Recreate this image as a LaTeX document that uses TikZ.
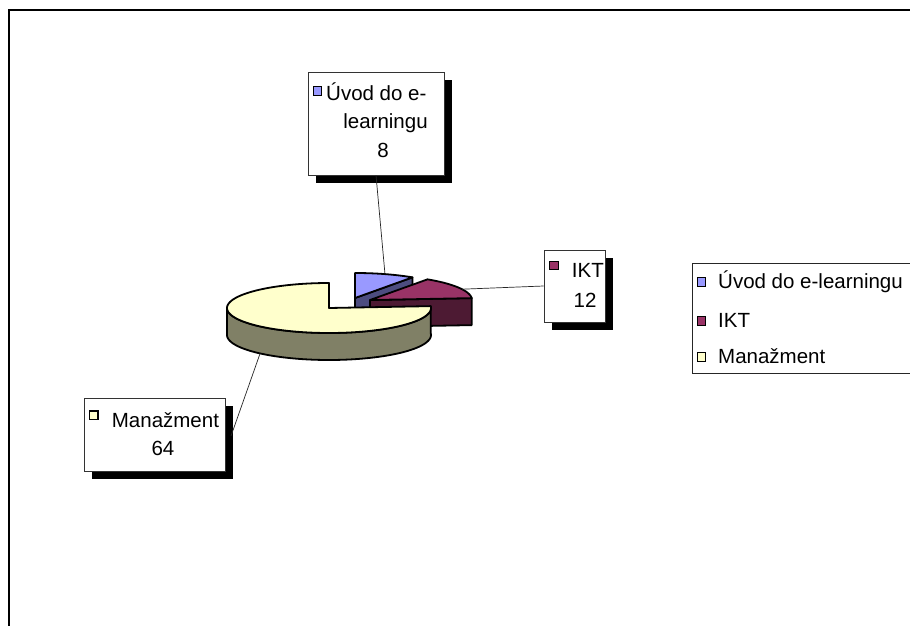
\documentclass[tikz,border=0pt]{standalone}
\usepackage{fontspec}
\setmainfont{Liberation Sans}
\usetikzlibrary{shadows}
\definecolor{uvod}{HTML}{9999FF}
\definecolor{uvodside}{HTML}{4D4D80}
\definecolor{ikt}{HTML}{993366}
\definecolor{iktside}{HTML}{4D1A33}
\definecolor{man}{HTML}{FFFFCC}
\definecolor{manside}{HTML}{808066}
\begin{document}
\begin{tikzpicture}[x=1pt,y=-1pt,
  lbl/.style={font=\fontsize{20.5}{24}\selectfont, inner sep=0pt, anchor=base west},
  lblc/.style={font=\fontsize{20.5}{24}\selectfont, inner sep=0pt, anchor=base},
  labelbox/.style={draw=black!80, line width=0.8pt, fill=white, inner sep=0pt,
    drop shadow={shadow xshift=7.5pt, shadow yshift=-7.5pt, fill=black, opacity=1}},
  mk/.style={draw=black, line width=1.3pt, minimum size=8.5pt, inner sep=0pt},
  pie/.style={draw=black, line width=1.8pt, line join=round},
  leader/.style={draw=black!85, line width=0.7pt}]
\useasboundingbox (0,0) rectangle (910,626);
\clip (0,0) rectangle (910,626);
\fill[white] (0,0) rectangle (910,626);
% outer frame
\draw[line width=2pt] (8.7,640) -- (8.7,10.3) -- (930,10.3);

% Uvod slice (exploded)
\filldraw[pie, fill=uvodside] (355,298) -- ({355+102*cos(55.7)},{298-25*sin(55.7)})
  -- ({355+102*cos(55.7)},{325-25*sin(55.7)}) -- (355,325) -- cycle;
\filldraw[pie, fill=uvod] (355,298) -- plot[domain=55.7:90, samples=30]
  ({355+102*cos(\x)},{298-25*sin(\x)}) -- cycle;

% IKT slice (exploded)
\filldraw[pie, fill=iktside] (370,300) -- ({370+102*cos(4.3)},{300-25*sin(4.3)})
  -- ({370+102*cos(4.3)},{327-25*sin(4.3)}) -- (370,327) -- cycle;
\filldraw[pie, fill=ikt] (370,300) -- plot[domain=4.3:55.7, samples=40]
  ({370+102*cos(\x)},{300-25*sin(\x)}) -- cycle;

% Manazment slice
\filldraw[pie, fill=manside] plot[domain=180:364.3, samples=100]
  ({329+102*cos(\x)},{308-25*sin(\x)}) -- plot[domain=364.3:180, samples=100]
  ({329+102*cos(\x)},{335-25*sin(\x)}) -- cycle;
\filldraw[pie, fill=man] (329,308) -- plot[domain=90:364.3, samples=150]
  ({329+102*cos(\x)},{308-25*sin(\x)}) -- cycle;

% leader anchor points
\coordinate (uvodpt) at ({355+102*cos(72.9)},{298-25*sin(72.9)});
\coordinate (iktpt) at ({370+102*cos(25.6)},{300-25*sin(25.6)});
\coordinate (manpt) at ({329+102*cos(227.5)},{335-25*sin(227.5)});
\coordinate (manend) at (231,436);

% label boxes
\node[labelbox, minimum width=136pt, minimum height=103pt] (ubox) at (376,123.5) {};
\node[labelbox, minimum width=61pt, minimum height=72pt] (ibox) at (574.5,286) {};
\node[labelbox, minimum width=141pt, minimum height=73pt] (mbox) at (154.5,434.5) {};

% leaders
\draw[leader] (uvodpt) -- (ubox.south);
\draw[leader] (iktpt) -- (ibox.west);
\draw[leader] (manpt) -- (manend);

% box contents
\node[mk, fill=uvod] (um) at (317.5,91) {};
\node[lbl] (ut1) at (326,100.5) {Úvod do e-};
\node[lblc] (ut2) at (385.5,128) {learningu};
\node[lblc] (ut3) at (383,157) {8};

\node[mk, fill=ikt] (im) at (554,265.5) {};
\node[lbl] (it1) at (571.7,277) {IKT};
\node[lblc] (it2) at (585,307) {12};

\node[mk, fill=man] (mm) at (93.7,415.3) {};
\node[lbl] (mt1) at (111.7,427) {Manažment};
\node[lblc] (mt2) at (163,455) {64};

% legend
\node[draw=black!85, line width=0.8pt, minimum width=250pt, minimum height=110pt,
  anchor=north west, inner sep=0pt] (legend) at (692,263) {};
\node[mk, fill=uvod] (lm1) at (701.5,282) {};
\node[lbl] (lt1) at (718,288) {Úvod do e-learningu};
\node[mk, fill=ikt] (lm2) at (701.5,321) {};
\node[lbl] (lt2) at (718,327) {IKT};
\node[mk, fill=man] (lm3) at (701.5,357) {};
\node[lbl] (lt3) at (718,363) {Manažment};
\end{tikzpicture}
\end{document}
